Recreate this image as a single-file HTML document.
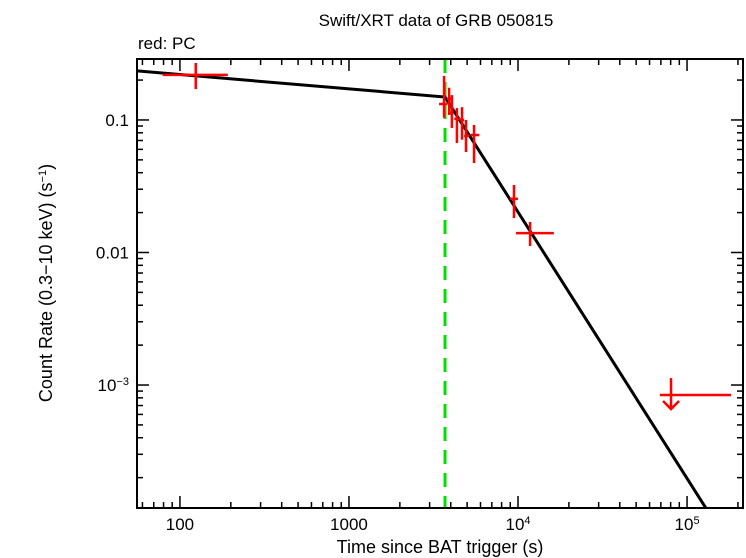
<!DOCTYPE html>
<html><head><meta charset="utf-8"><style>
html,body{margin:0;padding:0;background:#fff;}
svg{display:block;font-family:"Liberation Sans",sans-serif;}
</style></head><body>
<svg id="chart" width="746" height="558" viewBox="0 0 746 558" xmlns="http://www.w3.org/2000/svg">
<text x="436" y="26" font-size="17" text-anchor="middle">Swift/XRT data of GRB 050815</text>
<text x="138" y="49" font-size="17">red: PC</text>
<g id="grid"></g>
<g id="model"></g>
<g id="pts"></g>
<rect x="137" y="59" width="606" height="449" fill="none" stroke="#000" stroke-width="2"/>
<text x="440" y="553" font-size="18" text-anchor="middle">Time since BAT trigger (s)</text>
<text transform="translate(52,283) rotate(-90)" font-size="18" text-anchor="middle">Count Rate (0.3−10 keV) (s<tspan baseline-shift="super" font-size="11">−1</tspan>)</text>
</svg>
<script>
const tMid=[124,3650,3910,4060,4350,4660,4920,5490,9460,11780];
const tLo=[79,3410,3800,3960,4200,4500,4800,5250,8980,9730];
const tHi=[192,3800,4060,4150,4500,4800,5150,5900,10000,16300];
const rate=[0.219,0.132,0.144,0.113,0.102,0.100,0.0757,0.077,0.0254,0.0140];
const rLo=[0.171,0.104,0.109,0.087,0.067,0.071,0.0573,0.0473,0.0182,0.0112];
const rHi=[0.269,0.215,0.175,0.154,0.123,0.125,0.100,0.0917,0.0323,0.0170];
const ulT=[80400], ulLo=[69000], ulHi=[182000], ulRate=[0.00084];
const breakT=3700, breakRate=0.149, slope1=-0.108, slope2=-2.01;
const xTicks=[100,1000,10000,100000], xLabels=["100","1000","10^4","10^5"];
const yTicks=[0.1,0.01,0.001], yLabels=["0.1","0.01","10^-3"];

const L=137,R=743,T=59,B=508;
const xmin=1.746,xmax=5.331,ymin=-3.928,ymax=-0.540;
const X=v=>L+(Math.log10(v)-xmin)/(xmax-xmin)*(R-L);
const Y=v=>B-(Math.log10(v)-ymin)/(ymax-ymin)*(B-T);
const NS="http://www.w3.org/2000/svg";
function mk(tag,parent,attrs){const e=document.createElementNS(NS,tag);for(const k in attrs)e.setAttribute(k,attrs[k]);parent.appendChild(e);return e;}
const svg=document.getElementById('chart');
const grid=document.getElementById('grid'),model=document.getElementById('model'),pts=document.getElementById('pts');
// x ticks
for(let d=1;d<=5;d++)for(let m=1;m<10;m++){const v=m*Math.pow(10,d);const lx=Math.log10(v);if(lx<xmin||lx>xmax)continue;const x=X(v);const len=m===1?12:6;
 const a=mk('line',grid,{x1:x,x2:x,y1:B,y2:B-len,stroke:'#000','stroke-width':1.5});
 const b=mk('line',grid,{x1:x,x2:x,y1:T,y2:T+len,stroke:'#000','stroke-width':1.5});}
for(let d=-4;d<=0;d++)for(let m=1;m<10;m++){const v=m*Math.pow(10,d);const ly=Math.log10(v);if(ly<ymin||ly>ymax)continue;const y=Y(v);const len=m===1?12:6;
 const a=mk('line',grid,{x1:L,x2:L+len,y1:y,y2:y,stroke:'#000','stroke-width':1.5});
 const b=mk('line',grid,{x1:R,x2:R-len,y1:y,y2:y,stroke:'#000','stroke-width':1.5});}
function lab(parent,x,y,s,anchor){const t=mk('text',parent,{x:x,y:y,'font-size':17,'text-anchor':anchor});const p=s.split('^');t.appendChild(document.createTextNode(p[0]));if(p[1]){const ts=mk('tspan',t,{'baseline-shift':'super','font-size':11});ts.textContent=p[1].replace('-','−');}return t;}
xTicks.forEach((v,i)=>{const t=lab(grid,X(v),530,xLabels[i],'middle');});
yTicks.forEach((v,i)=>{const t=lab(grid,L-8,Y(v)+6,yLabels[i],'end');});
// break line
const bl=mk('line',model,{x1:X(breakT),x2:X(breakT),y1:T,y2:B,stroke:'#00e000','stroke-width':3,'stroke-dasharray':'14,9'});

// model
const mt=[Math.pow(10,xmin),breakT,Math.pow(10,xmax)];
const mr=t=>t<breakT?breakRate*Math.pow(t/breakT,slope1):breakRate*Math.pow(t/breakT,slope2);
const pl=mk('polyline',model,{points:mt.map(t=>X(t)+','+Y(mr(t))).join(' '),fill:'none',stroke:'#000','stroke-width':3});

// clip
const cp=mk('clipPath',svg,{id:'clip'});mk('rect',cp,{x:L,y:T,width:R-L,height:B-T});
model.setAttribute('clip-path','url(#clip)');
// points
tMid.forEach((t,i)=>{const g=mk('g',pts,{stroke:'#f00','stroke-width':2.5});
 
 mk('line',g,{x1:X(tLo[i]),x2:X(tHi[i]),y1:Y(rate[i]),y2:Y(rate[i])});
 mk('line',g,{x1:X(t),x2:X(t),y1:Y(rLo[i]),y2:Y(rHi[i])});});
ulT.forEach((t,i)=>{const g=mk('g',pts,{stroke:'#f00','stroke-width':2.5,fill:'none'});
 
 const y=Y(ulRate[i]),x=X(t);
 mk('line',g,{x1:X(ulLo[i]),x2:X(ulHi[i]),y1:y,y2:y});
 mk('line',g,{x1:x,x2:x,y1:y-17,y2:y+14});
 mk('polyline',g,{points:(x-8)+','+(y+6)+' '+x+','+(y+14)+' '+(x+8)+','+(y+6)});});
</script>
</body></html>
